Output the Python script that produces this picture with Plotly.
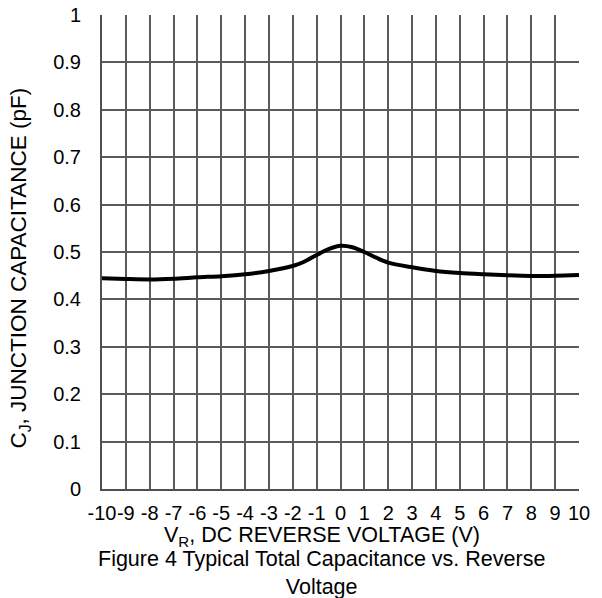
import plotly.graph_objects as go

voltage = [-10, -9, -8, -7, -6, -5, -4, -3, -2, -1.5, -1, -0.5, 0, 0.5, 1, 1.5, 2, 3, 4, 5, 6, 7, 8, 9, 10]
capacitance = [0.4445, 0.443, 0.442, 0.4435, 0.4466, 0.449, 0.453, 0.460, 0.4705, 0.480, 0.4937, 0.506, 0.513, 0.510, 0.500, 0.488, 0.4775, 0.4677, 0.460, 0.4557, 0.453, 0.4508, 0.4494, 0.450, 0.4515]

x_ticks = list(range(-10, 11))
y_ticks = [0, 0.1, 0.2, 0.3, 0.4, 0.5, 0.6, 0.7, 0.8, 0.9, 1]
y_labels = ["0", "0.1", "0.2", "0.3", "0.4", "0.5", "0.6", "0.7", "0.8", "0.9", "1"]

fig = go.Figure()
fig.add_trace(go.Scatter(x=voltage, y=capacitance, mode="lines",
                         line=dict(color="black", width=4, shape="spline", smoothing=0.8),
                         showlegend=False, hoverinfo="skip"))

family = "Liberation Sans, Arial, sans-serif"
tick_font = dict(family=family, size=20, color="black")
title_font = dict(family=family, size=21.5, color="black")
ytitle_font = dict(family=family, size=22.5, color="black")
grid = "#5a5a5a"

fig.update_layout(
    width=594, height=590,
    margin=dict(l=94, r=23, t=7, b=109),
    paper_bgcolor="white", plot_bgcolor="white",
    font=tick_font,
    xaxis=dict(range=[-10, 10], tickvals=x_ticks, ticktext=[str(v) for v in x_ticks],
               showgrid=True, gridcolor=grid, gridwidth=1.5,
               showline=True, linecolor="#505050", linewidth=2,
               zeroline=False, ticks="", tickfont=tick_font, ticklabelstandoff=5,
               tickangle=0, ticklabeloverflow="allow", automargin=False),
    yaxis=dict(range=[0, 1], tickvals=y_ticks, ticktext=y_labels,
               showgrid=True, gridcolor=grid, gridwidth=1.5,
               showline=True, linecolor="#505050", linewidth=2,
               zeroline=False, ticks="", tickfont=tick_font, ticklabelstandoff=15,
               ticklabeloverflow="allow", automargin=False),
    annotations=[
        dict(text="V<sub>R</sub>, DC REVERSE VOLTAGE (V)",
             xref="paper", yref="paper", x=0.461, y=-0.101, yanchor="middle",
             showarrow=False, font=title_font),
        dict(text="C<sub>J</sub>, JUNCTION CAPACITANCE (pF)", textangle=-90,
             xref="paper", yref="paper", x=-0.172, y=0.467, xanchor="center",
             showarrow=False, font=ytitle_font),
        dict(text="Figure 4 Typical Total Capacitance vs. Reverse<br>Voltage",
             xref="paper", yref="paper", x=0.461, y=-0.178, yanchor="middle",
             showarrow=False, font=title_font, align="center"),
    ],
)

fig.write_html("out.html")
